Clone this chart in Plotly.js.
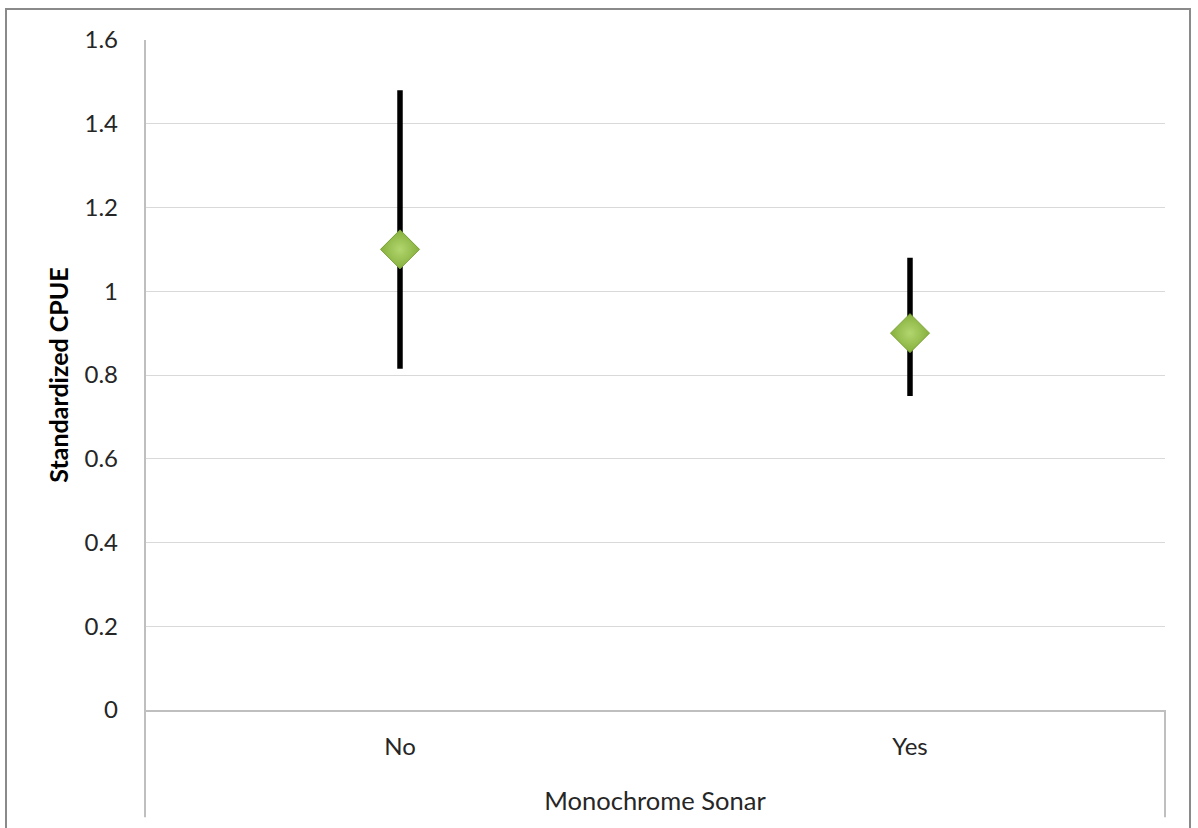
<!DOCTYPE html>
<html>
<head>
<meta charset="utf-8">
<script src="https://cdn.plot.ly/plotly-3.0.1.min.js"></script>
<style>
  html, body { margin: 0; padding: 0; background: #fff; }
  #chart { width: 1198px; height: 828px; position: absolute; left: 0; top: 0; }
  #frame { position: absolute; left: 5px; top: 8px; width: 1186px; height: 840px;
           border: 2px solid #8a8a8a; pointer-events: none; box-sizing: border-box; }
</style>
</head>
<body>
<div id="chart"></div>
<div id="frame"></div>
<script>
const categories = ["No", "Yes"];
const cpue = [1.10, 0.90];
const errUpper = [0.38, 0.18];
const errLower = [0.285, 0.15];
const yTickVals = [0, 0.2, 0.4, 0.6, 0.8, 1, 1.2, 1.4, 1.6];
const yTickText = ["0", "0.2", "0.4", "0.6", "0.8", "1", "1.2", "1.4", "1.6"];

const FONT = "Lato, 'Liberation Sans', sans-serif";
const TXT = "#262626";

const trace = {
  type: "scatter",
  mode: "markers",
  x: categories,
  y: cpue,
  error_y: {
    type: "data",
    symmetric: false,
    array: errUpper,
    arrayminus: errLower,
    color: "#000000",
    thickness: 5.5,
    width: 0
  },
  marker: {
    symbol: "diamond",
    size: 30,
    color: "#86b03c",
    gradient: { type: "radial", color: "#b2d66f" },
    line: { color: "#78a034", width: 1 }
  },
  hoverinfo: "x+y",
  showlegend: false
};

const layout = {
  width: 1198,
  height: 828,
  margin: { l: 145, r: 33, t: 40, b: 118 },
  paper_bgcolor: "#ffffff",
  plot_bgcolor: "#ffffff",
  font: { family: FONT, color: TXT, size: 24 },
  showlegend: false,
  xaxis: {
    type: "category",
    range: [-0.5, 1.5],
    showgrid: false,
    zeroline: false,
    showline: true,
    linecolor: "#bfbfbf",
    linewidth: 2,
    ticks: "",
    ticklabelstandoff: 14,
    tickfont: { family: FONT, size: 24, color: TXT },
    title: {
      text: "Monochrome Sonar",
      font: { family: FONT, size: 25.5, color: TXT },
      standoff: 33
    }
  },
  yaxis: {
    range: [0, 1.6],
    tickvals: yTickVals,
    ticktext: yTickText,
    showgrid: true,
    gridcolor: "#d9d9d9",
    gridwidth: 1,
    zeroline: false,
    showline: false,
    ticks: "",
    ticklabelstandoff: 26,
    tickfont: { family: FONT, size: 24, color: TXT },
    title: {
      text: "<b>Standardized CPUE</b>",
      font: { family: FONT, size: 25, color: "#000000" },
      standoff: 8
    }
  },
  shapes: [
    { type: "line", xref: "paper", yref: "paper", x0: 0, x1: 0, y0: -0.16, y1: 1,
      line: { color: "#bfbfbf", width: 2 } },
    { type: "line", xref: "paper", yref: "paper", x0: 1, x1: 1, y0: -0.16, y1: 0,
      line: { color: "#bfbfbf", width: 2 } }
  ]
};

Plotly.newPlot("chart", [trace], layout, { displayModeBar: false, staticPlot: true });
</script>
</body>
</html>
